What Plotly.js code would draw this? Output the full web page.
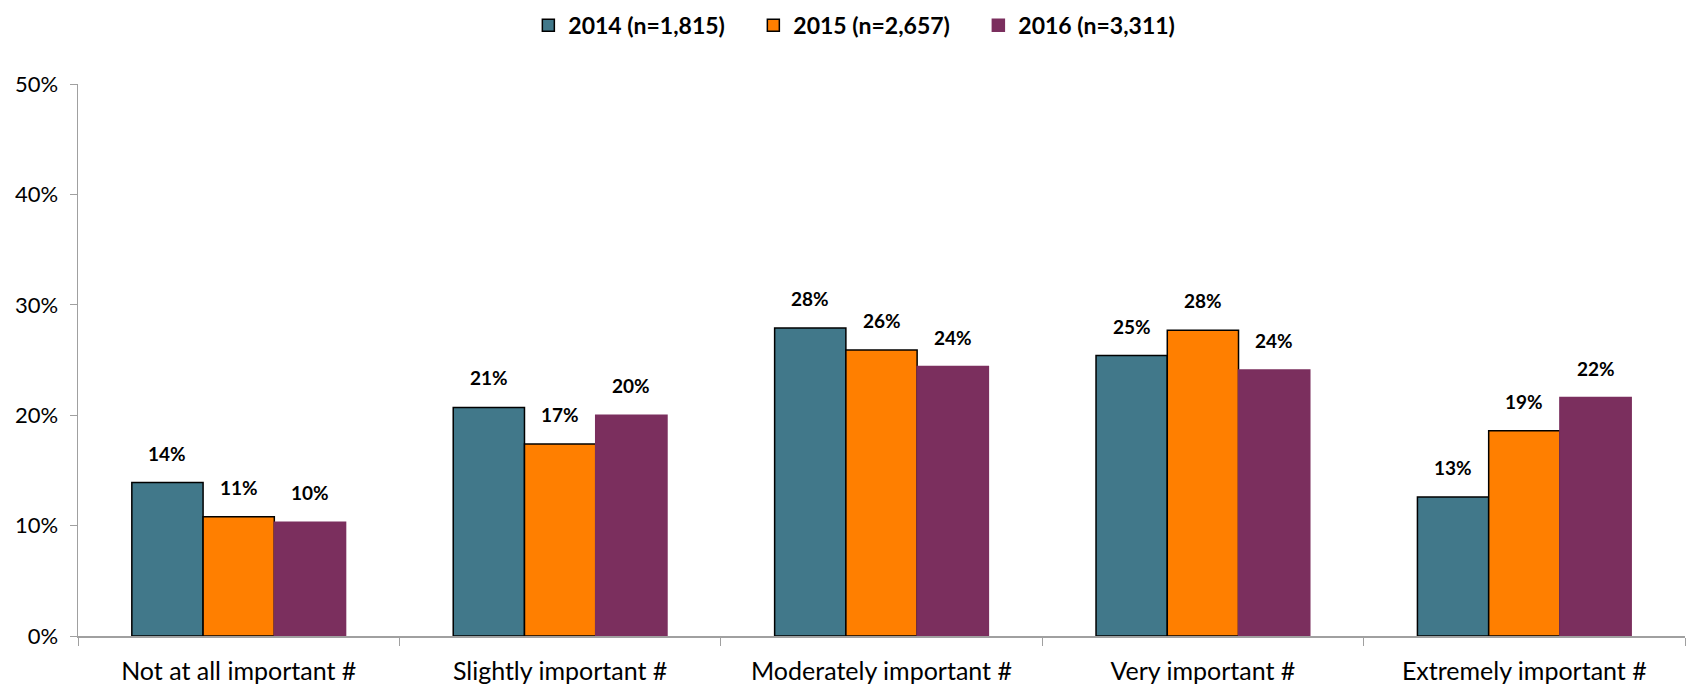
<!DOCTYPE html>
<html>
<head>
<meta charset="utf-8">
<script src="https://cdn.plot.ly/plotly-3.0.1.min.js"></script>
<style>html,body{margin:0;padding:0;background:#fff;}#chart{width:1688px;height:684px;}</style>
</head>
<body>
<div id="chart"></div>
<script>
const categories = ["Not at all important #", "Slightly important #", "Moderately important #", "Very important #", "Extremely important #"];
const seriesNames = ["2014 (n=1,815)", "2015 (n=2,657)", "2016 (n=3,311)"];
const values2014 = [13.9, 20.7, 27.9, 25.4, 12.6];
const values2015 = [10.8, 17.4, 25.9, 27.7, 18.6];
const values2016 = [10.3, 20.0, 24.4, 24.1, 21.6];
const yTicks = [0, 10, 20, 30, 40, 50];

const colors = ["#41788A", "#FF7F00", "#7B2F5E"];
const lineColors = ["#000000", "#000000", "#7B2F5E"];
const allValues = [values2014, values2015, values2016];

const FONT = "Lato, 'Open Sans', sans-serif";
const margin = {l: 78, r: 3, t: 84, b: 48};
const bargap = 0.335;
const W = 1688, H = 684;

const traces = allValues.map((vals, i) => ({
  type: "bar",
  name: seriesNames[i],
  x: categories,
  y: vals,
  marker: {color: colors[i], line: {color: lineColors[i], width: 1.5}},
  hoverinfo: "skip"
}));

// data labels as annotations above each bar, offset by the bar's slot in its group
const catWidth = (W - margin.l - margin.r) / categories.length;
const barWidth = catWidth * (1 - bargap) / allValues.length;
const annotations = [];
allValues.forEach((vals, i) => {
  vals.forEach((v, j) => {
    annotations.push({
      x: categories[j], y: v, xref: "x", yref: "y",
      text: Math.round(v) + "%",
      showarrow: false,
      yanchor: "bottom",
      yshift: 16,
      xshift: (i - (allValues.length - 1) / 2) * barWidth,
      font: {family: FONT, size: 19, color: "#000", weight: 700}
    });
  });
});

const layout = {
  width: W,
  height: H,
  margin: margin,
  paper_bgcolor: "#fff",
  plot_bgcolor: "#fff",
  barmode: "group",
  bargap: bargap,
  bargroupgap: 0,
  showlegend: true,
  legend: {
    orientation: "h",
    xref: "container", yref: "container",
    x: 0.313, xanchor: "left",
    y: 0.963, yanchor: "middle",
    font: {family: FONT, size: 23, color: "#000", weight: 700},
    itemwidth: 30,
    entrywidth: 180,
    entrywidthmode: "pixels",
    tracegroupgap: 0
  },
  annotations: annotations,
  xaxis: {
    type: "category",
    showline: true,
    linecolor: "#A0A0A0",
    linewidth: 1.5,
    ticks: "outside",
    tickson: "boundaries",
    ticklen: 8,
    tickcolor: "#A0A0A0",
    ticklabelstandoff: 12,
    tickfont: {family: FONT, size: 25, color: "#000"},
    showgrid: false,
    zeroline: false,
    fixedrange: true
  },
  yaxis: {
    range: [0, 50],
    tickvals: yTicks,
    ticktext: yTicks.map(t => t + "%"),
    showline: true,
    linecolor: "#A0A0A0",
    linewidth: 1.5,
    ticks: "outside",
    ticklen: 7,
    tickcolor: "#A0A0A0",
    ticklabelstandoff: 7,
    tickfont: {family: FONT, size: 22, color: "#000"},
    showgrid: false,
    zeroline: false,
    fixedrange: true
  }
};

Plotly.newPlot("chart", traces, layout, {displayModeBar: false, staticPlot: true});
</script>
</body>
</html>
